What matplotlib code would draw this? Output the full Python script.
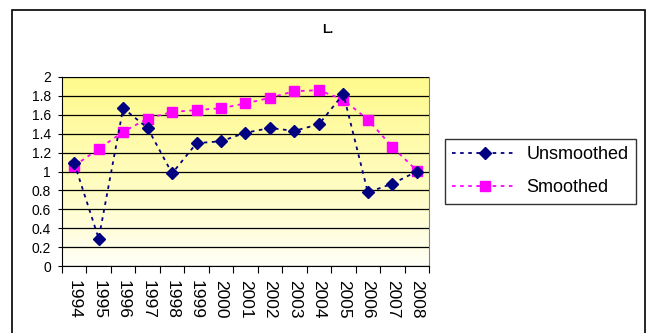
import matplotlib.pyplot as plt
import numpy as np
from matplotlib.patches import Rectangle

plt.rcParams['font.family'] = ['Liberation Sans', 'DejaVu Sans']

# Data
years = ['1994', '1995', '1996', '1997', '1998', '1999', '2000', '2001',
         '2002', '2003', '2004', '2005', '2006', '2007', '2008']
unsmoothed = [1.09, 0.29, 1.67, 1.46, 0.98, 1.30, 1.32, 1.41,
              1.46, 1.43, 1.50, 1.82, 0.78, 0.87, 1.00]
smoothed = [1.06, 1.24, 1.42, 1.56, 1.63, 1.65, 1.67, 1.72,
            1.78, 1.85, 1.86, 1.76, 1.55, 1.26, 1.01]
yticks = [0, 0.2, 0.4, 0.6, 0.8, 1, 1.2, 1.4, 1.6, 1.8, 2]
ylabels = ['0', '0.2', '0.4', '0.6', '0.8', '1', '1.2', '1.4', '1.6', '1.8', '2']

fig = plt.figure(figsize=(6.47, 3.33), dpi=100)
ax = fig.add_axes([62 / 647, 1 - 266 / 333, (429 - 62) / 647, (266 - 77) / 333])

# outer chart border
fig.patches.append(Rectangle((12 / 647, -0.1), (645 - 12) / 647, 1.1 - 10 / 333,
                             transform=fig.transFigure, fill=False,
                             edgecolor='black', linewidth=1.2))

# yellow gradient background
grad = np.linspace(0, 1, 256).reshape(-1, 1)
top = np.array([255, 250, 140]) / 255
bottom = np.array([255, 255, 250]) / 255
img = bottom + (top - bottom) * grad[..., None] ** 0.8
ax.imshow(img, extent=[-0.5, 14.5, 0, 2], origin='lower', aspect='auto', zorder=0)

x = np.arange(len(years))
ax.plot(x, unsmoothed, color='#000080', linestyle=(0, (2, 2.5)), linewidth=1.3,
        marker='D', markersize=6.5, label='Unsmoothed', zorder=4)
ax.plot(x, smoothed, color='#FF00FF', linestyle=(0, (2, 2.5)), linewidth=1.3,
        marker='s', markersize=7, label='Smoothed', zorder=3)

ax.set_xlim(-0.5, 14.5)
ax.set_ylim(0, 2)
ax.set_yticks(yticks)
ax.set_yticklabels(ylabels, fontsize=10)
ax.yaxis.grid(True, color='black', linewidth=0.9, zorder=1)
ax.set_axisbelow(False)
for gl in ax.get_ygridlines():
    gl.set_zorder(1)

ax.set_xticks(np.arange(-0.5, 15, 1))
ax.set_xticklabels([])
ax.set_xticks(x, minor=True)
ax.set_xticklabels(years, minor=True, rotation=270, fontsize=12.5, va='top', ha='center')
ax.tick_params(axis='x', which='major', length=5, direction='out', color='black')
ax.tick_params(axis='x', which='minor', length=0, pad=10)
ax.tick_params(axis='y', length=3, direction='out', pad=5)

ax.spines['top'].set_color('#808080')
ax.spines['right'].set_color('#808080')
ax.spines['left'].set_color('black')
ax.spines['bottom'].set_color('black')

fig.text(328 / 647, 1 - 30 / 333, 'L.', fontsize=9, fontweight='bold', ha='center', va='center')

leg = fig.legend(loc='upper left', bbox_to_anchor=(445 / 647, 1 - 139 / 333),
                 fontsize=13, frameon=True, fancybox=False, handlelength=3.6,
                 borderpad=0.4, labelspacing=0.9, handletextpad=0.5, borderaxespad=0)
leg.get_frame().set_edgecolor('black')
leg.get_frame().set_linewidth(1)

plt.savefig('out.png', dpi=100)
